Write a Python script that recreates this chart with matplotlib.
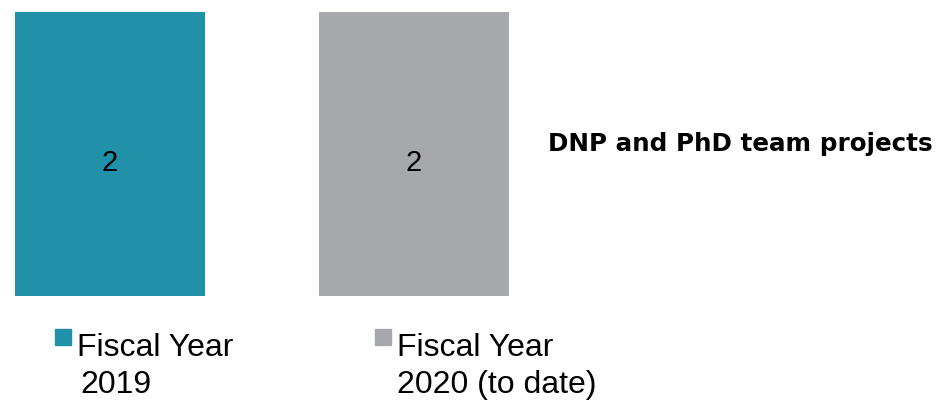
import matplotlib
matplotlib.use("Agg")
import matplotlib.pyplot as plt
from matplotlib.patches import Rectangle

categories = ["Fiscal Year 2019", "Fiscal Year 2020 (to date)"]
legend_lines = [["Fiscal Year", "2019"], ["Fiscal Year", "2020 (to date)"]]
values = [2, 2]
colors = ["#2190A9", "#A7A8AC"]
title = "DNP and PhD team projects"

plt.rcParams['font.family'] = ['Liberation Sans', 'DejaVu Sans']

W, H = 947, 402
fig = plt.figure(figsize=(W / 100, H / 100), dpi=100)

def fx(px):
    return px / W

def fy(py):
    return (H - py) / H

ax = fig.add_axes([fx(15), fy(297), fx(509) - fx(15), fy(13) - fy(297)])
x = list(range(len(values)))
ax.bar(x, values, width=0.625, color=colors)
ax.set_xlim(-0.3125, 1.3125)
ax.set_ylim(0, 2)
ax.axis('off')

for i, v in enumerate(values):
    ax.annotate(str(v), xy=(i, v / 2), xytext=(0, -16), textcoords='offset pixels',
                ha='center', va='baseline', fontsize=21, color='black')

fig.text(fx(548), fy(151), title, fontsize=17.7, fontweight='bold',
         family=['DejaVu Sans'], ha='left', va='baseline', color='black')

legend_pos = [(55, 77, 80), (375, 397, 397)]
for (mx, tx, tx2), lines, c in zip(legend_pos, legend_lines, colors):
    fig.patches.append(Rectangle((fx(mx), fy(346)), fx(16), fy(330) - fy(346),
                                 transform=fig.transFigure, color=c, figure=fig))
    fig.text(fx(tx), fy(356), lines[0], fontsize=23, ha='left', va='baseline', color='black')
    fig.text(fx(tx2), fy(393), lines[1], fontsize=23,
             ha='left', va='baseline', color='black')

fig.savefig("out.png", dpi=100)
